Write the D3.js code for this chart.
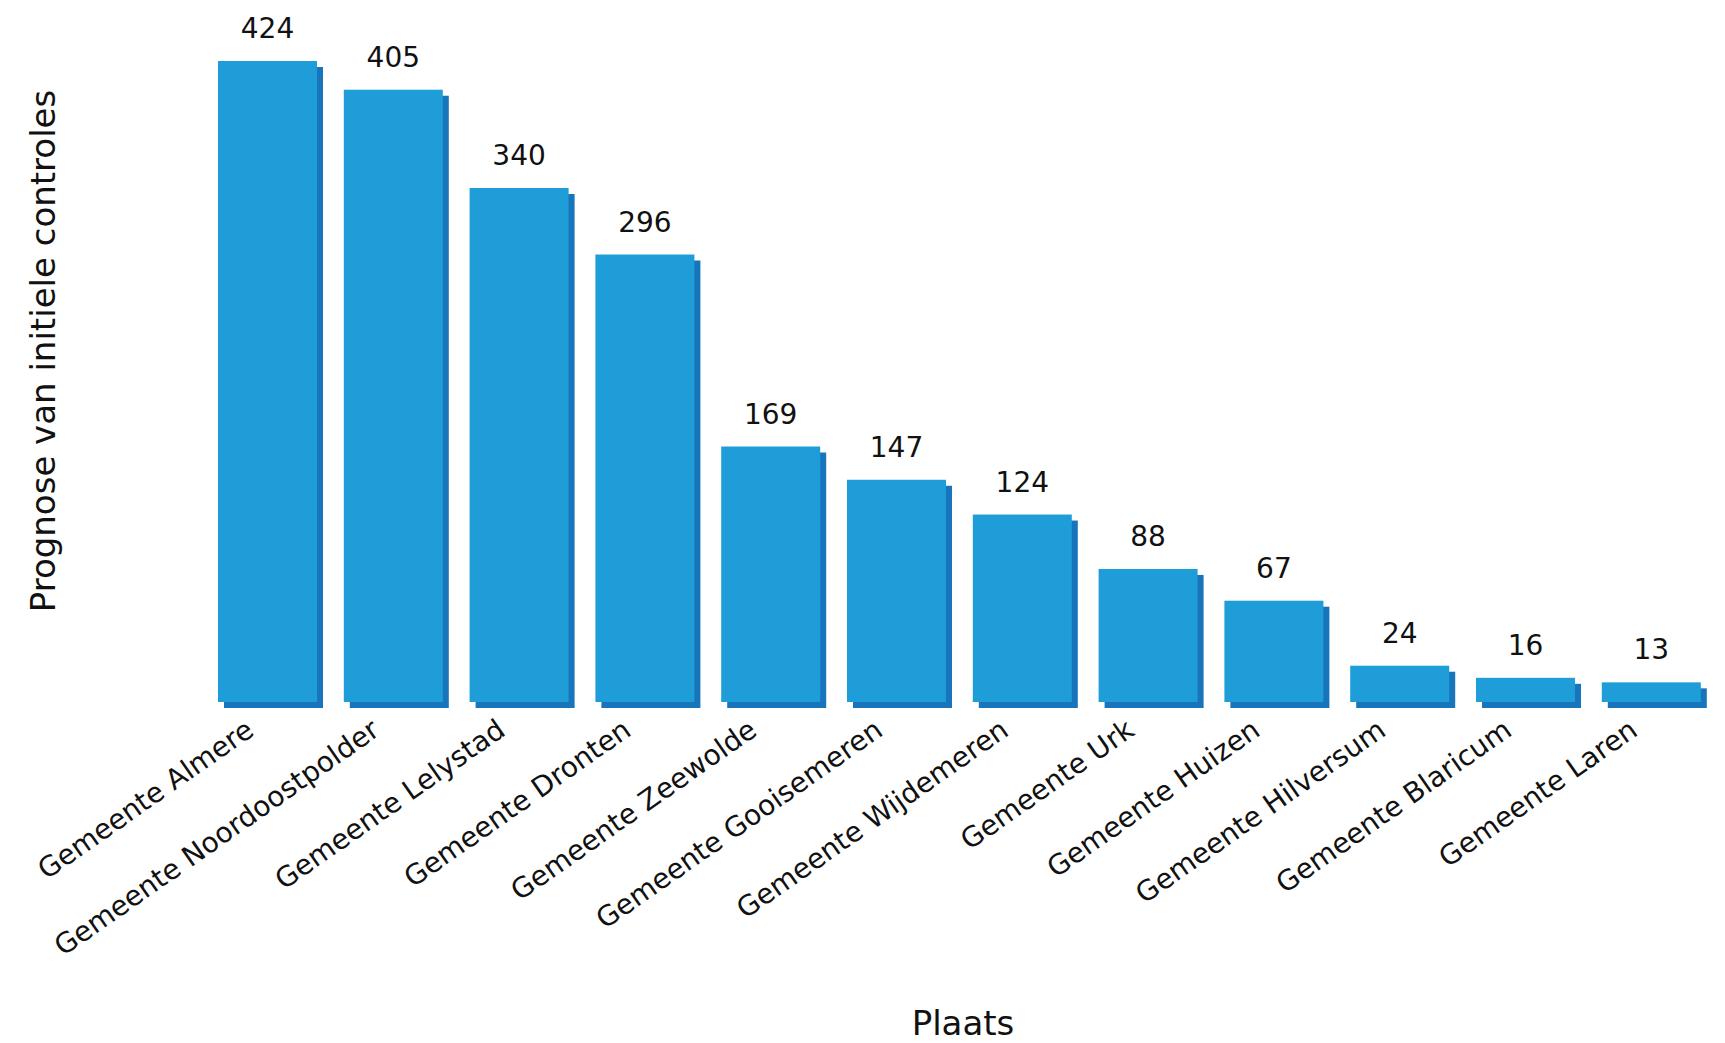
<!DOCTYPE html>
<html>
<head>
<meta charset="utf-8">
<script src="https://cdn.jsdelivr.net/npm/d3@7"></script>
<style>
    body { margin: 0; background: #fff; }
    svg { display: block; font-family: "DejaVu Sans", Verdana, sans-serif; }
</style>
</head>
<body>
<svg id="chart"></svg>
<script>
const categories = [
    "Gemeente Almere", "Gemeente Noordoostpolder", "Gemeente Lelystad", "Gemeente Dronten",
    "Gemeente Zeewolde", "Gemeente Gooisemeren", "Gemeente Wijdemeren", "Gemeente Urk",
    "Gemeente Huizen", "Gemeente Hilversum", "Gemeente Blaricum", "Gemeente Laren"
];
const values = [424, 405, 340, 296, 169, 147, 124, 88, 67, 24, 16, 13];
const xTitle = "Plaats";
const yTitle = "Prognose van initiele controles";

const width = 1725;
const height = 1043;
const baseY = 702;
const topY = 61;

const svg = d3.select("#chart")
    .attr("width", width)
    .attr("height", height);

const x = d3.scaleBand()
    .domain(categories)
    .range([204.6, 1714.2])
    .paddingInner(0.213)
    .paddingOuter(0.1065);

const y = d3.scaleLinear()
    .domain([0, d3.max(values)])
    .range([baseY, topY]);

const data = categories.map((c, i) => ({ name: c, value: values[i] }));

// shadow bars
svg.append("g")
    .selectAll("rect")
    .data(data)
    .enter()
    .append("rect")
    .attr("x", d => x(d.name) + 6)
    .attr("y", d => y(d.value) + 6)
    .attr("width", x.bandwidth())
    .attr("height", d => baseY - y(d.value))
    .attr("fill", "#1875bc");

// bars
svg.append("g")
    .selectAll("rect")
    .data(data)
    .enter()
    .append("rect")
    .attr("x", d => x(d.name))
    .attr("y", d => y(d.value))
    .attr("width", x.bandwidth())
    .attr("height", d => baseY - y(d.value))
    .attr("fill", "#1e9dd8");

// value labels
svg.append("g")
    .selectAll("text")
    .data(data)
    .enter()
    .append("text")
    .attr("x", d => x(d.name) + x.bandwidth() / 2)
    .attr("y", d => y(d.value) - 23)
    .attr("text-anchor", "middle")
    .attr("font-size", 28)
    .attr("fill", "#111")
    .text(d => d.value);

// x axis tick labels (rotated)
const xAxis = svg.append("g")
    .attr("transform", `translate(0, ${baseY})`)
    .call(d3.axisBottom(x).tickSize(0));
xAxis.select(".domain").remove();
xAxis.selectAll("text")
    .attr("font-size", 28)
    .attr("font-family", "DejaVu Sans, Verdana, sans-serif")
    .attr("fill", "#111")
    .attr("text-anchor", "end")
    .attr("dy", 0)
    .attr("y", 0)
    .attr("transform", "translate(-12, 32) rotate(-35)");

// axis titles
svg.append("text")
    .attr("x", 963)
    .attr("y", 1035)
    .attr("text-anchor", "middle")
    .attr("font-size", 34)
    .attr("fill", "#111")
    .text(xTitle);

svg.append("text")
    .attr("transform", "rotate(-90)")
    .attr("x", -351)
    .attr("y", 55)
    .attr("text-anchor", "middle")
    .attr("font-size", 34)
    .attr("fill", "#111")
    .text(yTitle);
</script>
</body>
</html>
